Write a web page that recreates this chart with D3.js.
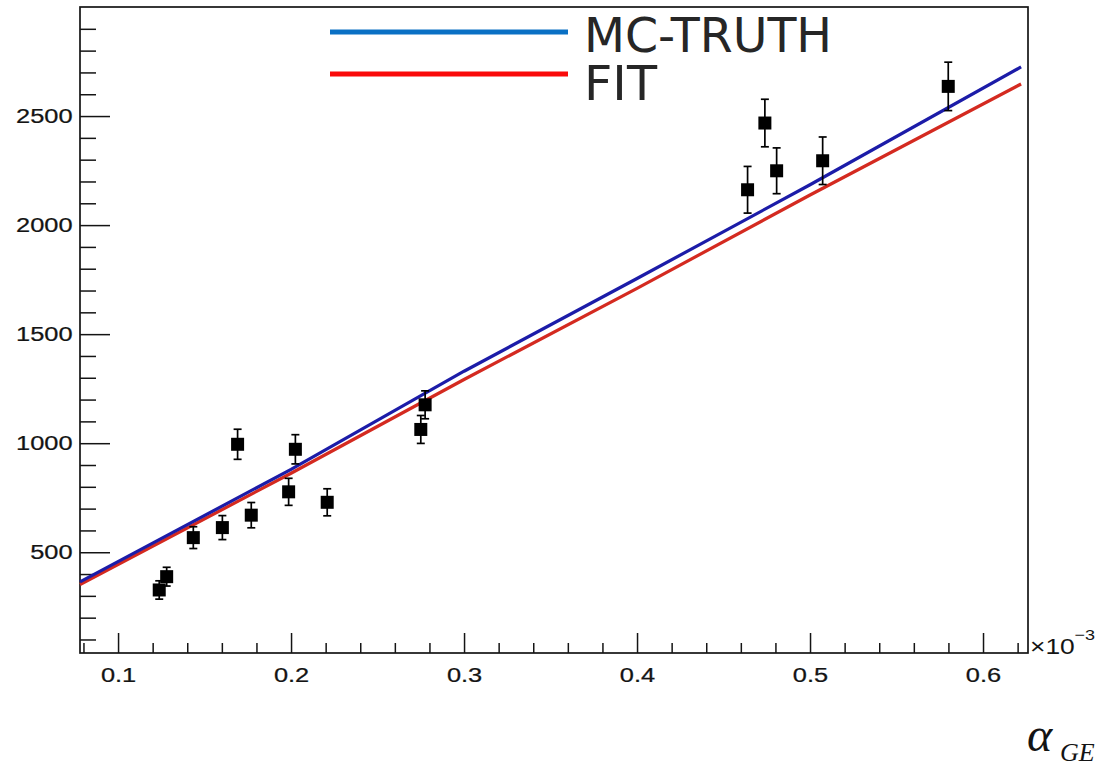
<!DOCTYPE html>
<html>
<head>
<meta charset="utf-8">
<script src="https://cdn.jsdelivr.net/npm/d3@7"></script>
<style>
  html, body { margin: 0; padding: 0; background: #ffffff; }
  svg { display: block; }
</style>
</head>
<body>
<svg id="chart" width="1096" height="766"></svg>
<script>
// Measured points: alpha (x 1e-3), counts and their uncertainties
const alphaValues = [0.1238, 0.1281, 0.1435, 0.1603, 0.1691, 0.1770, 0.1986, 0.2025, 0.2209, 0.2750, 0.2775, 0.4639, 0.4739, 0.4807, 0.5073, 0.5799];
const countValues = [327, 388, 567, 613, 995, 670, 777, 972, 729, 1063, 1176, 2162, 2468, 2249, 2295, 2636];
const countErrors = [42, 43, 50, 55, 69, 58, 62, 67, 62, 64, 64, 107, 109, 105, 109, 111];

// Curves: MC truth and fit result sampled along alpha
const curveAlpha = [0.078, 0.2, 0.3, 0.4, 0.5, 0.622];
const mcTruthValues = [364, 880, 1330, 1755, 2185, 2725];
const fitValues = [352, 862, 1292, 1710, 2138, 2647];

// Axis ticks
const xMajorTicks = [0.1, 0.2, 0.3, 0.4, 0.5, 0.6];
const yMajorTicks = [500, 1000, 1500, 2000, 2500];
const legendLabels = ["MC-TRUTH", "FIT"];

const svg = d3.select("#chart");
const frameL = 80, frameR = 1028, frameT = 7, frameB = 653;

const x = d3.scaleLinear().domain([0.078, 0.626]).range([frameL, frameR]);
const y = d3.scaleLinear().domain([38, 3000]).range([frameB, frameT]);

const xMinor = d3.range(0.08, 0.6255, 0.02).filter(v => !xMajorTicks.some(t => Math.abs(t - v) < 1e-9));
const yMinor = d3.range(100, 3000, 100).filter(v => v % 500 !== 0);

const axisFont = "'Liberation Sans', Arial, Helvetica, sans-serif";
const ink = "#141414";

// x axis: minor + major ticks pointing into the frame
const gxMinor = svg.append("g").attr("transform", `translate(0,${frameB})`)
  .call(d3.axisBottom(x).tickValues(xMinor).tickSizeInner(-10).tickSizeOuter(0).tickFormat(""));
const gx = svg.append("g").attr("transform", `translate(0,${frameB})`)
  .call(d3.axisBottom(x).tickValues(xMajorTicks).tickSizeInner(-20).tickSizeOuter(0)
    .tickPadding(14).tickFormat(d3.format(".1f")));

// y axis
const gyMinor = svg.append("g").attr("transform", `translate(${frameL},0)`)
  .call(d3.axisLeft(y).tickValues(yMinor).tickSizeInner(-16).tickSizeOuter(0).tickFormat(""));
const gy = svg.append("g").attr("transform", `translate(${frameL},0)`)
  .call(d3.axisLeft(y).tickValues(yMajorTicks).tickSizeInner(-30).tickSizeOuter(0)
    .tickPadding(6).tickFormat(d3.format("d")));

[gxMinor, gx, gyMinor, gy].forEach(g => {
  g.select(".domain").remove();
  g.selectAll(".tick line").attr("stroke", ink).attr("stroke-width", 1.5);
});
[gx, gy].forEach(g => {
  g.selectAll(".tick text")
    .attr("fill", ink)
    .attr("font-family", axisFont)
    .attr("font-size", 20.5)
    .attr("stroke", ink).attr("stroke-width", 0.25)
    .attr("transform", "scale(1.24,1)");
});

// frame
svg.append("rect")
  .attr("x", frameL).attr("y", frameT)
  .attr("width", frameR - frameL).attr("height", frameB - frameT)
  .attr("fill", "none").attr("stroke", ink).attr("stroke-width", 1.7);

// exponent marker
const expo = svg.append("g").attr("transform", `translate(1030,654) scale(1.2,1)`);
expo.append("text").attr("x", 0).attr("y", 0)
  .attr("font-family", axisFont).attr("font-size", 22).attr("fill", ink)
  .text("×10");
expo.append("text").attr("x", 37).attr("y", -14)
  .attr("font-family", axisFont).attr("font-size", 15).attr("fill", ink)
  .text("−3");

// curves
const line = d3.line().x((d, i) => x(curveAlpha[i])).y(d => y(d));
svg.append("path").datum(fitValues)
  .attr("d", line).attr("fill", "none")
  .attr("stroke", "#d42a20").attr("stroke-width", 3.2);
svg.append("path").datum(mcTruthValues)
  .attr("d", line).attr("fill", "none")
  .attr("stroke", "#1c1ca8").attr("stroke-width", 3.2);

// data points with error bars
const pts = alphaValues.map((a, i) => ({ a, c: countValues[i], e: countErrors[i] }));
const gp = svg.append("g").attr("stroke", "#000").attr("stroke-width", 1.7);
const pg = gp.selectAll("g.pt").data(pts).join("g").attr("class", "pt");
pg.append("line")
  .attr("x1", d => x(d.a)).attr("x2", d => x(d.a))
  .attr("y1", d => y(d.c + d.e)).attr("y2", d => y(d.c - d.e));
pg.append("line")
  .attr("x1", d => x(d.a) - 4).attr("x2", d => x(d.a) + 4)
  .attr("y1", d => y(d.c + d.e)).attr("y2", d => y(d.c + d.e));
pg.append("line")
  .attr("x1", d => x(d.a) - 4).attr("x2", d => x(d.a) + 4)
  .attr("y1", d => y(d.c - d.e)).attr("y2", d => y(d.c - d.e));
pg.append("rect")
  .attr("x", d => x(d.a) - 6.5).attr("y", d => y(d.c) - 6.5)
  .attr("width", 13).attr("height", 13)
  .attr("fill", "#000").attr("stroke", "none");

// legend
const legendColors = ["#0a70c4", "#fa0a0a"];
const legendY = [32, 74];
const legendBaseline = [52, 100];
const legendLen = [248, 73];
legendLabels.forEach((lab, i) => {
  svg.append("line")
    .attr("x1", 330).attr("x2", 568)
    .attr("y1", legendY[i]).attr("y2", legendY[i])
    .attr("stroke", legendColors[i]).attr("stroke-width", 5);
  svg.append("text")
    .attr("x", 584).attr("y", legendBaseline[i])
    .attr("font-family", "'DejaVu Sans', 'Open Sans', sans-serif")
    .attr("font-size", 48)
    .attr("fill", "#262626")
    .attr("textLength", legendLen[i])
    .attr("lengthAdjust", "spacingAndGlyphs")
    .text(lab);
});

// axis title (alpha with subscript)
svg.append("text")
  .attr("x", 1027).attr("y", 751)
  .attr("font-family", "'Liberation Serif', 'DejaVu Serif', serif")
  .attr("font-style", "italic")
  .attr("font-size", 48)
  .attr("fill", ink)
  .text("α");
svg.append("text")
  .attr("x", 1060).attr("y", 761)
  .attr("font-family", "'Liberation Serif', 'DejaVu Serif', serif")
  .attr("font-style", "italic")
  .attr("font-size", 26)
  .attr("fill", ink)
  .text("GE");
</script>
</body>
</html>
